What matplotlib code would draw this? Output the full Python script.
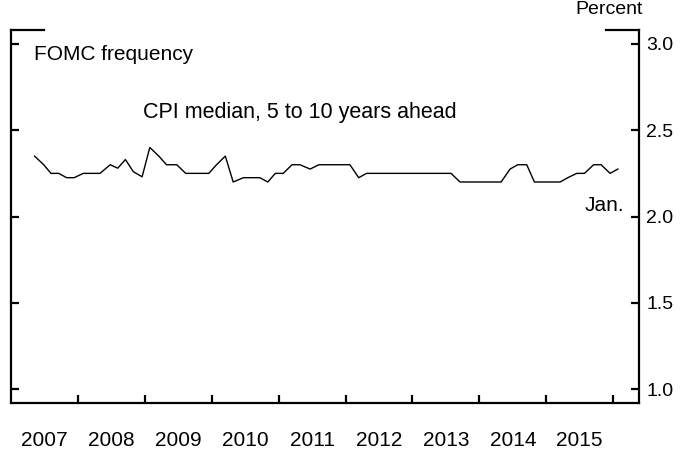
import numpy as np
import pandas as pd
import matplotlib
matplotlib.use("Agg")
import matplotlib.pyplot as plt

plt.rcParams['font.family'] = ['Liberation Sans', 'DejaVu Sans']

# FOMC meeting dates (survey taken ahead of each meeting)
meeting_dates = [
    "2007-05-09", "2007-06-28", "2007-08-07", "2007-09-18", "2007-10-31", "2007-12-11",
    "2008-01-30", "2008-03-18", "2008-04-30", "2008-06-25", "2008-08-05", "2008-09-16", "2008-10-29", "2008-12-16",
    "2009-01-28", "2009-03-18", "2009-04-29", "2009-06-24", "2009-08-12", "2009-09-23", "2009-11-04", "2009-12-16",
    "2010-01-27", "2010-03-16", "2010-04-28", "2010-06-23", "2010-08-10", "2010-09-21", "2010-11-03", "2010-12-14",
    "2011-01-26", "2011-03-15", "2011-04-27", "2011-06-22", "2011-08-09", "2011-09-21", "2011-11-02", "2011-12-13",
    "2012-01-25", "2012-03-13", "2012-04-25", "2012-06-20", "2012-08-01", "2012-09-13", "2012-10-24", "2012-12-12",
    "2013-01-30", "2013-03-20", "2013-05-01", "2013-06-19", "2013-07-31", "2013-09-18", "2013-10-30", "2013-12-18",
    "2014-01-29", "2014-03-19", "2014-04-30", "2014-06-18", "2014-07-30", "2014-09-17", "2014-10-29", "2014-12-17",
    "2015-01-28", "2015-03-18", "2015-04-29", "2015-06-17", "2015-07-29", "2015-09-17", "2015-10-28", "2015-12-16",
    "2016-01-27",
]

cpi_median = [
    2.35, 2.30, 2.25, 2.25, 2.225, 2.225,
    2.25, 2.25, 2.25, 2.30, 2.28, 2.33, 2.26, 2.23,
    2.40, 2.35, 2.30, 2.30, 2.25, 2.25, 2.25, 2.25,
    2.30, 2.35, 2.20, 2.225, 2.225, 2.225, 2.20, 2.25,
    2.25, 2.30, 2.30, 2.275, 2.30, 2.30, 2.30, 2.30,
    2.30, 2.225, 2.25, 2.25, 2.25, 2.25, 2.25, 2.25,
    2.25, 2.25, 2.25, 2.25, 2.25, 2.20, 2.20, 2.20,
    2.20, 2.20, 2.20, 2.275, 2.30, 2.30, 2.20, 2.20,
    2.20, 2.20, 2.225, 2.25, 2.25, 2.30, 2.30, 2.25,
    2.275,
]

years = list(range(2007, 2016))

# convert dates to decimal years
d = pd.to_datetime(meeting_dates)
x = d.year + (d.dayofyear - 1) / 365.25

fig = plt.figure(figsize=(6.94, 4.49), dpi=100)
ax = fig.add_axes([0.016, 0.1025, 0.905, 0.8305])

ax.plot(x, cpi_median, color="black", lw=1.0)

ax.set_xlim(2007, 2016.39)
ax.set_ylim(0.92, 3.08)

# spines: left, right, bottom only, with short caps at top
ax.spines["top"].set_visible(False)
for s in ["left", "right", "bottom"]:
    ax.spines[s].set_linewidth(1.6)
ax.plot([0, 0.053], [1, 1], transform=ax.transAxes, color="black", lw=1.6, clip_on=False,
        solid_capstyle="projecting")
ax.plot([0.947, 1], [1, 1], transform=ax.transAxes, color="black", lw=1.6, clip_on=False,
        solid_capstyle="projecting")

# y axis: ticks both sides, labels on right
ax.set_yticks([1.0, 1.5, 2.0, 2.5, 3.0])
ax.set_yticklabels(["1.0", "1.5", "2.0", "2.5", "3.0"])
ax.tick_params(axis="y", which="major", direction="in", length=6, width=1.6,
               left=True, right=True, labelleft=False, labelright=True,
               labelsize=14, pad=5)

# x axis: year boundary ticks, labels centred in each year
ax.set_xticks(list(range(2008, 2017)))
ax.set_xticklabels([])
ax.set_xticks([y + 0.5 for y in years], minor=True)
ax.set_xticklabels([str(y) for y in years], minor=True)
ax.tick_params(axis="x", which="major", direction="in", length=6, width=1.6)
ax.tick_params(axis="x", which="minor", length=0, labelsize=15, pad=20)

ax.text(1.005, 1.054, "Percent", transform=ax.transAxes, ha="right", va="center", fontsize=14)
ax.text(0.037, 0.935, "FOMC frequency", transform=ax.transAxes, ha="left", va="center", fontsize=15)
ax.text(0.46, 0.78, "CPI median, 5 to 10 years ahead", transform=ax.transAxes,
        ha="center", va="center", fontsize=15.5)
ax.text(0.945, 0.53, "Jan.", transform=ax.transAxes, ha="center", va="center", fontsize=15)

fig.savefig("out.png", dpi=100)
